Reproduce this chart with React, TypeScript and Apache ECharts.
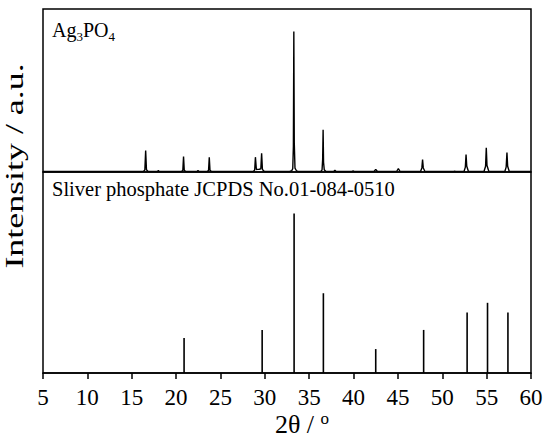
import React, { useEffect, useRef } from "react";
import * as echarts from "echarts";

const FONT = "Liberation Serif, Times New Roman, serif";

// Measured XRD pattern of Ag3PO4 (2θ, intensity in a.u.)
const patternX = [
  5,
  16.3, 16.48, 16.57, 16.66, 16.85,
  17.9, 18.0, 18.1,
  20.6, 20.76, 20.84, 20.92, 21.1,
  22.35, 22.47, 22.6,
  23.5, 23.66, 23.74, 23.82, 24.0,
  28.7, 28.86, 28.94, 29.05, 29.2, 29.35, 29.55, 29.64, 29.73, 29.95,
  32.8, 33.05, 33.15, 33.22, 33.27, 33.32, 33.4, 33.55, 33.75,
  36.3, 36.45, 36.52, 36.57, 36.62, 36.7, 36.9,
  37.75, 37.9, 38.05,
  39.8, 39.95, 40.1,
  42.3, 42.5, 42.7,
  44.85, 45.05, 45.25,
  47.55, 47.7, 47.78, 47.86, 48.05,
  51.3, 51.4, 51.5,
  52.45, 52.6, 52.68, 52.76, 52.95,
  54.7, 54.88, 54.96, 55.04, 55.25,
  57.05, 57.2, 57.29, 57.37, 57.55,
  60,
];
const patternY = [
  0.3,
  0.3, 1.2, 13.2, 1.4, 0.3,
  0.3, 0.9, 0.3,
  0.3, 1.0, 9.5, 1.1, 0.3,
  0.3, 0.9, 0.3,
  0.3, 1.0, 9.1, 1.1, 0.3,
  0.3, 1.2, 9.1, 1.5, 1.6, 1.6, 2.0, 11.5, 1.5, 0.3,
  0.3, 0.9, 2.2, 16, 86.2, 18, 2.4, 0.9, 0.3,
  0.3, 1.2, 8, 25.9, 6, 1.3, 0.3,
  0.3, 1.0, 0.3,
  0.3, 0.7, 0.3,
  0.3, 1.6, 0.3,
  0.3, 2.1, 0.3,
  0.3, 2.5, 7.7, 2.5, 0.3,
  0.3, 0.5, 0.3,
  0.3, 3.0, 10.7, 3.5, 0.3,
  0.3, 3.5, 14.9, 4.0, 0.3,
  0.3, 3.0, 12.0, 3.5, 0.3,
  0.3,
];

// JCPDS No.01-084-0510 reference lines (2θ, relative intensity)
const refPos = [20.9, 29.7, 33.3, 36.6, 42.5, 47.9, 52.8, 55.1, 57.4];
const refInt = [22, 27, 100, 50, 15, 27, 38, 44, 38];

const xMin = 5;
const xMax = 60;
const xStep = 5;

const sampleLabel = "Ag3PO4";
const refLabel = "Sliver phosphate JCPDS No.01-084-0510";
const yTitle = "Intensity / a.u.";

export default function App() {
  const ref = useRef<HTMLDivElement>(null);

  useEffect(() => {
    const chart = echarts.init(ref.current!, null, { renderer: "svg" });
    const frame = { show: true, borderColor: "#000", borderWidth: 1.5, backgroundColor: "transparent" };
    chart.setOption({
      animation: false,
      backgroundColor: "#fff",
      textStyle: { fontFamily: FONT },
      grid: [
        { left: 43, width: 488, top: 9, height: 163, ...frame },
        { left: 43, width: 488, top: 172, height: 201, ...frame },
      ],
      xAxis: [
        { gridIndex: 0, type: "value", min: xMin, max: xMax, interval: xStep, show: false },
        {
          gridIndex: 1,
          type: "value",
          min: xMin,
          max: xMax,
          interval: xStep,
          axisLine: { show: true, lineStyle: { color: "#000", width: 1.5 } },
          axisTick: { show: true, inside: false, length: 6, lineStyle: { color: "#000", width: 1.5 } },
          axisLabel: { fontFamily: FONT, fontSize: 23, color: "#000", margin: 13 },
          splitLine: { show: false },
        },
      ],
      yAxis: [
        { gridIndex: 0, type: "value", min: 0, max: 100, show: false },
        { gridIndex: 1, type: "value", min: 0, max: 126, show: false },
      ],
      series: [
        {
          type: "line",
          xAxisIndex: 0,
          yAxisIndex: 0,
          data: patternX.map((x, i) => [x, patternY[i]]),
          showSymbol: false,
          symbol: "none",
          lineStyle: { color: "#000", width: 1.4 },
        },
        {
          type: "bar",
          xAxisIndex: 1,
          yAxisIndex: 1,
          data: refPos.map((x, i) => [x, refInt[i]]),
          barWidth: 1.6,
          itemStyle: { color: "#000" },
        },
      ],
      graphic: [
        {
          type: "text",
          x: 52,
          y: 30,
          style: {
            text: "{n|Ag}{s|3}{n|PO}{s|4}",
            align: "left",
            verticalAlign: "middle",
            fill: "#000",
            rich: {
              n: { fontFamily: FONT, fontSize: 20, lineHeight: 26, fill: "#000" },
              s: { fontFamily: FONT, fontSize: 13, lineHeight: 13, verticalAlign: "bottom", fill: "#000" },
            },
          },
        },
        {
          type: "text",
          x: 52,
          y: 189,
          style: {
            text: refLabel,
            fontFamily: FONT,
            fontSize: 20.5,
            fill: "#000",
            align: "left",
            verticalAlign: "middle",
          },
        },
        {
          type: "text",
          x: 302,
          y: 424,
          style: {
            text: "{n|2θ / }{s|o}",
            align: "center",
            verticalAlign: "middle",
            fill: "#000",
            rich: {
              n: { fontFamily: FONT, fontSize: 26, lineHeight: 28, fill: "#000" },
              s: { fontFamily: FONT, fontSize: 17, lineHeight: 17, verticalAlign: "top", fill: "#000" },
            },
          },
        },
        {
          type: "text",
          x: 14,
          y: 166,
          rotation: Math.PI / 2,
          scaleX: 1.38,
          style: {
            text: yTitle,
            fontFamily: FONT,
            fontSize: 26,
            fill: "#000",
            align: "center",
            verticalAlign: "middle",
          },
        },
      ],
    });
    return () => chart.dispose();
  }, []);

  return (
    <div
      ref={ref}
      style={{ position: "absolute", left: 0, top: 0, width: 550, height: 442 }}
      data-label={sampleLabel}
    />
  );
}
